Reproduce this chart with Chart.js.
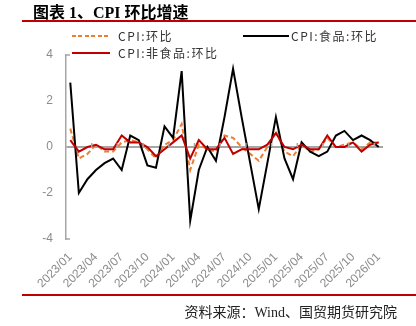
<!DOCTYPE html>
<html>
<head>
<meta charset="utf-8">
<script src="https://cdn.jsdelivr.net/npm/chart.js@4.4.1/dist/chart.umd.min.js"></script>
<style>
body{margin:0;width:416px;height:326px;background:#fff;position:relative;overflow:hidden}
#wrap{position:absolute;left:0;top:0;width:416px;height:326px}
.title{position:absolute;left:33px;top:-1px;font:bold 16px "Liberation Serif","Noto Sans CJK SC",serif;color:#000;white-space:nowrap}
.rule{position:absolute;left:22px;width:394px;height:2px;background:#c00000}
.lg{position:absolute;font:12px "Noto Sans CJK SC",sans-serif;letter-spacing:1.5px;color:#333;line-height:14px;white-space:nowrap}
.sw{position:absolute;width:38px;height:2px}
.src{position:absolute;right:19px;top:301px;font:14px "Liberation Serif","Noto Sans CJK SC",serif;color:#222;white-space:nowrap}
</style>
</head>
<body>
<div id="wrap"><canvas id="myChart" width="416" height="326"></canvas></div>
<div class="title">图表 1、CPI 环比增速</div>
<div class="rule" style="top:20px"></div>

<div class="sw" style="left:72px;top:35px;background:repeating-linear-gradient(90deg,#ED7D31 0 4px,transparent 4px 6.5px)"></div>
<div class="lg" style="left:118px;top:29px">CPI:环比</div>
<div class="sw" style="left:243px;top:35px;width:46px;background:#000"></div>
<div class="lg" style="left:291px;top:29px">CPI:食品:环比</div>
<div class="sw" style="left:72px;top:52px;background:#c00000"></div>
<div class="lg" style="left:118px;top:46px">CPI:非食品:环比</div>

<div class="rule" style="top:294px"></div>
<div class="src">资料来源：Wind、国贸期货研究院</div>

<script>
// months
const months = [
    '2023/01','2023/02','2023/03','2023/04','2023/05','2023/06','2023/07','2023/08','2023/09','2023/10','2023/11','2023/12',
    '2024/01','2024/02','2024/03','2024/04','2024/05','2024/06','2024/07','2024/08','2024/09','2024/10','2024/11','2024/12',
    '2025/01','2025/02','2025/03','2025/04','2025/05','2025/06','2025/07','2025/08','2025/09','2025/10','2025/11','2025/12',
    '2026/01'
];

// CPI:环比
const cpiMom = [
    0.8, -0.5, -0.3, 0.1, -0.2, -0.2, 0.2, 0.3, 0.2, -0.1, -0.5, 0.1,
    0.3, 1.0, -1.0, 0.1, -0.1, -0.2, 0.5, 0.4, 0.0, -0.3, -0.6, 0.0,
    0.7, -0.2, -0.4, 0.1, -0.2, -0.1, 0.4, 0.0, 0.1, 0.2, -0.1, 0.2,
    0.2
];

// CPI:食品:环比
const foodMom = [
    2.8, -2.0, -1.4, -1.0, -0.7, -0.5, -1.0, 0.5, 0.3, -0.8, -0.9, 0.9,
    0.4, 3.3, -3.2, -1.0, 0.0, -0.6, 1.3, 3.4, 1.3, -0.7, -2.7, -0.7,
    1.3, -0.5, -1.4, 0.2, -0.2, -0.4, -0.2, 0.5, 0.7, 0.3, 0.5, 0.3,
    0.0
];

// CPI:非食品:环比
const nonFoodMom = [
    0.3, -0.2, 0.0, 0.1, -0.1, -0.1, 0.5, 0.2, 0.2, 0.0, -0.4, -0.1,
    0.2, 0.5, -0.5, 0.3, -0.1, -0.1, 0.4, -0.3, -0.1, -0.1, -0.1, 0.1,
    0.6, 0.0, -0.1, 0.1, -0.1, -0.1, 0.5, 0.0, 0.0, 0.2, -0.2, 0.1,
    0.2
];

const yTicks = [-4, -2, 0, 2, 4];

// small tick marks: inside the y axis at both ends, and on the zero line before each labelled month
const tickMarks = {
    id: 'tickMarks',
    afterDatasetsDraw(chart) {
        const { ctx, scales: { x, y } } = chart;
        ctx.save();
        ctx.strokeStyle = '#a6a6a6';
        ctx.lineWidth = 1.5;
        ctx.beginPath();
        [4, -4].forEach(v => {
            const py = y.getPixelForValue(v);
            ctx.moveTo(x.left, py);
            ctx.lineTo(x.left + 4, py);
        });
        const y0 = y.getPixelForValue(0);
        for (let i = 3; i < months.length; i += 3) {
            const px = (x.getPixelForValue(i - 1) + x.getPixelForValue(i)) / 2;
            ctx.moveTo(px, y0);
            ctx.lineTo(px, y0 - 4);
        }
        ctx.stroke();
        ctx.restore();
    }
};

const data = {
    labels: months,
    datasets: [{
        label: 'CPI:非食品:环比',
        data: nonFoodMom,
        borderColor: '#c00000',
        borderWidth: 2,
        order: 0
    }, {
        label: 'CPI:食品:环比',
        data: foodMom,
        borderColor: '#000000',
        borderWidth: 2,
        order: 1
    }, {
        label: 'CPI:环比',
        data: cpiMom,
        borderColor: '#ED7D31',
        borderWidth: 2,
        borderDash: [5, 3],
        order: 2
    }]
};

const options = {
    responsive: false,
    animation: false,
    elements: {
        point: { radius: 0 },
        line: { tension: 0 }
    },
    layout: {
        padding: { left: 26, right: 33, top: 55, bottom: 27 }
    },
    plugins: {
        legend: { display: false },
        tooltip: { enabled: false }
    },
    scales: {
        x: {
            offset: true,
            border: { display: false },
            grid: { display: false, drawTicks: false },
            afterFit: (scale) => { scale.height = 60; },
            ticks: {
                autoSkip: false,
                minRotation: 45,
                maxRotation: 45,
                padding: 11,
                color: '#8c8c8c',
                font: { family: 'Liberation Sans', size: 12 },
                callback: (v, i) => (i % 3 === 0 ? months[i] : '')
            }
        },
        y: {
            min: -4,
            max: 4,
            afterFit: (scale) => { scale.width = 40; },
            afterBuildTicks: (scale) => { scale.ticks = yTicks.map(v => ({ value: v })); },
            border: { display: true, color: '#a6a6a6', width: 1.5 },
            grid: {
                drawTicks: false,
                color: (c) => (c.tick && c.tick.value === 0 ? '#a6a6a6' : 'transparent'),
                lineWidth: 2
            },
            ticks: {
                padding: 13,
                color: '#8c8c8c',
                font: { family: 'Liberation Sans', size: 12 }
            }
        }
    }
};

const ctx = document.getElementById('myChart').getContext('2d');

const cpiChart = new Chart(ctx, {
    type: 'line',
    data: data,
    options: options,
    plugins: [tickMarks]
});
</script>
</body>
</html>
